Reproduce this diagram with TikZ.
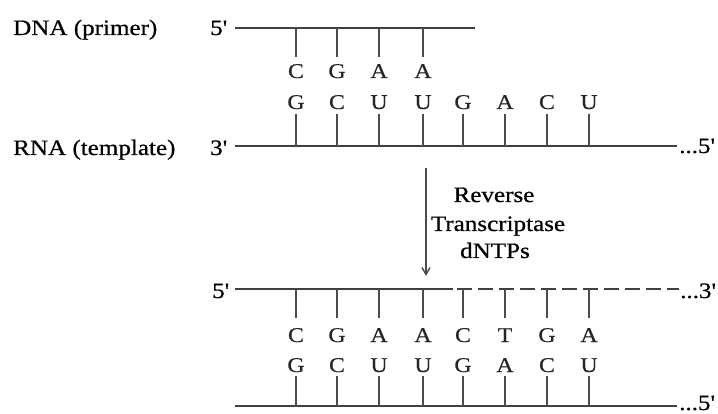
\documentclass[tikz,border=0pt]{standalone}
\usepackage{fontspec}
\setmainfont{Liberation Serif}[FakeStretch=1.14,FakeBold=0.6]
\usetikzlibrary{arrows.meta}
\newcommand{\pr}{\textquotesingle}
\begin{document}
\begin{tikzpicture}[x=1pt,y=-1pt,
  strand/.style={line width=1.6pt, draw=black!75},
  stemline/.style={line width=1.6pt, draw=black!70},
  lbl/.style={font=\fontsize{22}{26}\selectfont, inner sep=0pt, anchor=base west},
  enz/.style={font=\fontsize{22}{26}\selectfont, inner sep=0pt, anchor=base},
  nb/.style={font=\fontsize{21}{24}\selectfont, inner sep=0pt, anchor=base, text=black!85}]
\useasboundingbox (0,0) rectangle (718,414);

% ---------- upper hybrid ----------
\node[lbl] (dnal) at (13,35) {DNA (primer)};
\node[lbl] (rnal) at (13,155) {RNA (template)};
\node[lbl] (p5) at (210,35) {5\pr};
\node[lbl] (r3) at (210,155) {3\pr};
\node[lbl] (r5) at (679,153) {...5\pr};

\coordinate (ps) at (235,28);
\coordinate (pe) at (475,28);
\coordinate (rs) at (235,146);
\coordinate (re) at (677,146);
\draw[strand] (ps) -- (pe);
\draw[strand] (rs) -- (re);

\foreach \i/\x/\l in {1/296/C,2/337/G,3/379/A,4/423/A}{
  \node[nb] (ua\i) at (\x,78) {\l};
  \coordinate (uat\i) at (\x,28);
  \coordinate (uab\i) at (\x,57);
  \draw[stemline] (uat\i) -- (uab\i);
}
\foreach \i/\x/\l in {1/296/G,2/337/C,3/379/U,4/423/U,5/463/G,6/505/A,7/547/C,8/589/U}{
  \node[nb] (ub\i) at (\x,109) {\l};
  \coordinate (ubt\i) at (\x,114);
  \coordinate (ubb\i) at (\x,146);
  \draw[stemline] (ubt\i) -- (ubb\i);
}

% ---------- arrow and enzyme ----------
\coordinate (ar1) at (426,168);
\coordinate (ar2) at (426,276);
\draw[line width=1.5pt, draw=black!70, -{Straight Barb[length=7pt,width=8pt]}] (ar1) -- (ar2);
\node[enz] (rv1) at (494,202) {Reverse};
\node[enz] (rv2) at (498,231) {Transcriptase};
\node[enz] (rv3) at (495,258) {dNTPs};

% ---------- lower hybrid ----------
\node[lbl] (q5) at (212,298) {5\pr};
\node[lbl] (q3) at (680,298) {...3\pr};
\node[lbl] (b5) at (679,410) {...5\pr};

\coordinate (qs) at (235,289);
\coordinate (qm) at (453,289);
\coordinate (qd) at (457,289);
\coordinate (qe) at (679,289);
\coordinate (bs) at (235,406);
\coordinate (be) at (677,406);
\draw[strand] (qs) -- (qm);
\draw[strand, dash pattern=on 15pt off 6pt] (qd) -- (qe);
\draw[strand] (bs) -- (be);

\foreach \i/\x/\l in {1/296/C,2/337/G,3/379/A,4/423/A,5/463/C,6/505/T,7/547/G,8/589/A}{
  \node[nb] (la\i) at (\x,342) {\l};
  \coordinate (lat\i) at (\x,289);
  \coordinate (lab\i) at (\x,318);
  \draw[stemline] (lat\i) -- (lab\i);
}
\foreach \i/\x/\l in {1/296/G,2/337/C,3/379/U,4/423/U,5/463/G,6/505/A,7/547/C,8/589/U}{
  \node[nb] (lb\i) at (\x,372) {\l};
  \coordinate (lbt\i) at (\x,376);
  \coordinate (lbb\i) at (\x,406);
  \draw[stemline] (lbt\i) -- (lbb\i);
}
\end{tikzpicture}
\end{document}
